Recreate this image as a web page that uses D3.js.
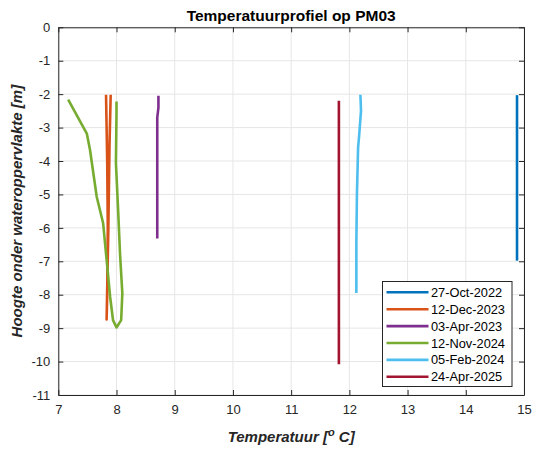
<!DOCTYPE html>
<html><head><meta charset="utf-8">
<script src="https://cdn.jsdelivr.net/npm/d3@7"></script>
<style>body{margin:0;background:#fff}svg{display:block}</style>
</head><body><svg id="c" width="535" height="455"></svg>
<script>
const labels = ["27-Oct-2022","12-Dec-2023","03-Apr-2023","12-Nov-2024","05-Feb-2024","24-Apr-2025"];
const colors = ["#0072BD","#D95319","#7E2F8E","#77AC30","#4DBEEE","#A2142F"];
const temp1 = [14.88,14.88];
const depth1 = [-2.03,-6.98];
const temp2 = [7.82,7.84,7.85,7.84,7.83,7.86,7.88,7.90];
const depth2 = [-2.02,-4.0,-6.0,-8.0,-8.74,-6.0,-3.5,-2.02];
const temp3 = [8.72,8.72,8.70,8.70];
const depth3 = [-2.05,-2.4,-2.7,-6.32];
const temp4 = [7.17,7.49,7.545,7.66,7.77,7.83,7.89,7.94,8.0,8.08,8.1,8.06,8.03,7.99,8.0,8.0];
const depth4 = [-2.16,-3.18,-3.67,-5.07,-5.86,-6.96,-8.06,-8.76,-8.98,-8.76,-7.96,-6.76,-5.56,-4.06,-2.56,-2.22];
const temp5 = [12.19,12.2,12.17,12.15,12.13,12.12,12.12];
const depth5 = [-2.02,-2.5,-3.2,-3.6,-5.0,-6.5,-7.95];
const temp6 = [11.82,11.82];
const depth6 = [-2.2,-10.08];
const xTicks = [7,8,9,10,11,12,13,14,15];
const yTicks = [0,-1,-2,-3,-4,-5,-6,-7,-8,-9,-10,-11];
const title = "Temperatuurprofiel op PM03";
const yLabel = "Hoogte onder wateroppervlakte [m]";

const temps = [temp1,temp2,temp3,temp4,temp5,temp6];
const depths = [depth1,depth2,depth3,depth4,depth5,depth6];
const series = labels.map((l,i)=>({label:l,color:colors[i],pts:temps[i].map((t,j)=>[t,depths[i][j]])}));

const L=58.3,R=524,T=27.3,B=395;
const svg = d3.select("#c");
const x = d3.scaleLinear().domain([7,15]).range([L,R]);
const y = d3.scaleLinear().domain([-11,0]).range([B,T]);
const font = "'Liberation Sans', Arial, sans-serif";
const ax = "#262626";
const fmt = d => String(d);

// grid
const g = svg.append("g");
g.selectAll(".gx").data(xTicks).join("line").attr("x1",d=>x(d)).attr("x2",d=>x(d)).attr("y1",T).attr("y2",B).attr("stroke","#e6e6e6").attr("stroke-width",1);
g.selectAll(".gy").data(yTicks).join("line").attr("x1",L).attr("x2",R).attr("y1",d=>y(d)).attr("y2",d=>y(d)).attr("stroke","#e6e6e6").attr("stroke-width",1);

// data
const line = d3.line().x(d=>x(d[0])).y(d=>y(d[1])).curve(d3.curveLinear);
svg.append("g").selectAll("path").data(series).join("path")
  .attr("d",d=>line(d.pts)).attr("fill","none").attr("stroke",d=>d.color).attr("stroke-width",2.6).attr("stroke-linejoin","round").attr("stroke-linecap","butt");

// axes
const xa = svg.append("g").attr("transform",`translate(0,${B})`).call(d3.axisBottom(x).tickValues(xTicks).tickFormat(fmt).tickSizeInner(-5).tickSizeOuter(0).tickPadding(10));
const xt = svg.append("g").attr("transform",`translate(0,${T})`).call(d3.axisTop(x).tickValues(xTicks).tickSizeInner(-5).tickSizeOuter(0).tickFormat(""));
const ya = svg.append("g").attr("transform",`translate(${L},0)`).call(d3.axisLeft(y).tickValues(yTicks).tickFormat(fmt).tickSizeInner(-5).tickSizeOuter(0).tickPadding(8));
const yr = svg.append("g").attr("transform",`translate(${R},0)`).call(d3.axisRight(y).tickValues(yTicks).tickSizeInner(-5).tickSizeOuter(0).tickFormat(""));
[xa,xt,ya,yr].forEach(a=>{
  a.selectAll("path").attr("stroke",ax).attr("stroke-width",1);
  a.selectAll("line").attr("stroke",ax).attr("stroke-width",1);
  a.selectAll("text").attr("fill",ax).style("font-family",font).style("font-size","13px");
});

// title
svg.append("text").attr("x",(L+R)/2).attr("y",21).attr("text-anchor","middle")
  .style("font-family",font).style("font-size","15.5px").style("font-weight","bold").attr("fill","#000").text(title);
// x label
const xl = svg.append("text").attr("x",(L+R)/2).attr("y",442).attr("text-anchor","middle")
  .style("font-family",font).style("font-size","15px").style("font-weight","bold").style("font-style","italic").attr("fill",ax);
xl.append("tspan").text("Temperatuur [");
xl.append("tspan").attr("dy",-6).style("font-size","11px").text("o");
xl.append("tspan").attr("dy",6).text(" C]");
// y label
svg.append("text").attr("transform",`translate(22,${(T+B)/2}) rotate(-90)`).attr("text-anchor","middle")
  .style("font-family",font).style("font-size","15px").style("font-weight","bold").style("font-style","italic").attr("fill",ax).text(yLabel);

// legend
const lg = svg.append("g");
lg.append("rect").attr("x",382.5).attr("y",281.5).attr("width",129.5).attr("height",105).attr("fill","#fff").attr("stroke",ax).attr("stroke-width",1);
const rows = lg.selectAll("g.r").data(series).join("g").attr("transform",(d,i)=>`translate(0,${292.3+i*16.9})`);
rows.append("line").attr("x1",386.5).attr("x2",428.5).attr("y1",0).attr("y2",0).attr("stroke",d=>d.color).attr("stroke-width",2.6);
rows.append("text").attr("x",431).attr("y",4.5).style("font-family",font).style("font-size","12.8px").attr("fill","#000").text(d=>d.label);
</script></body></html>
